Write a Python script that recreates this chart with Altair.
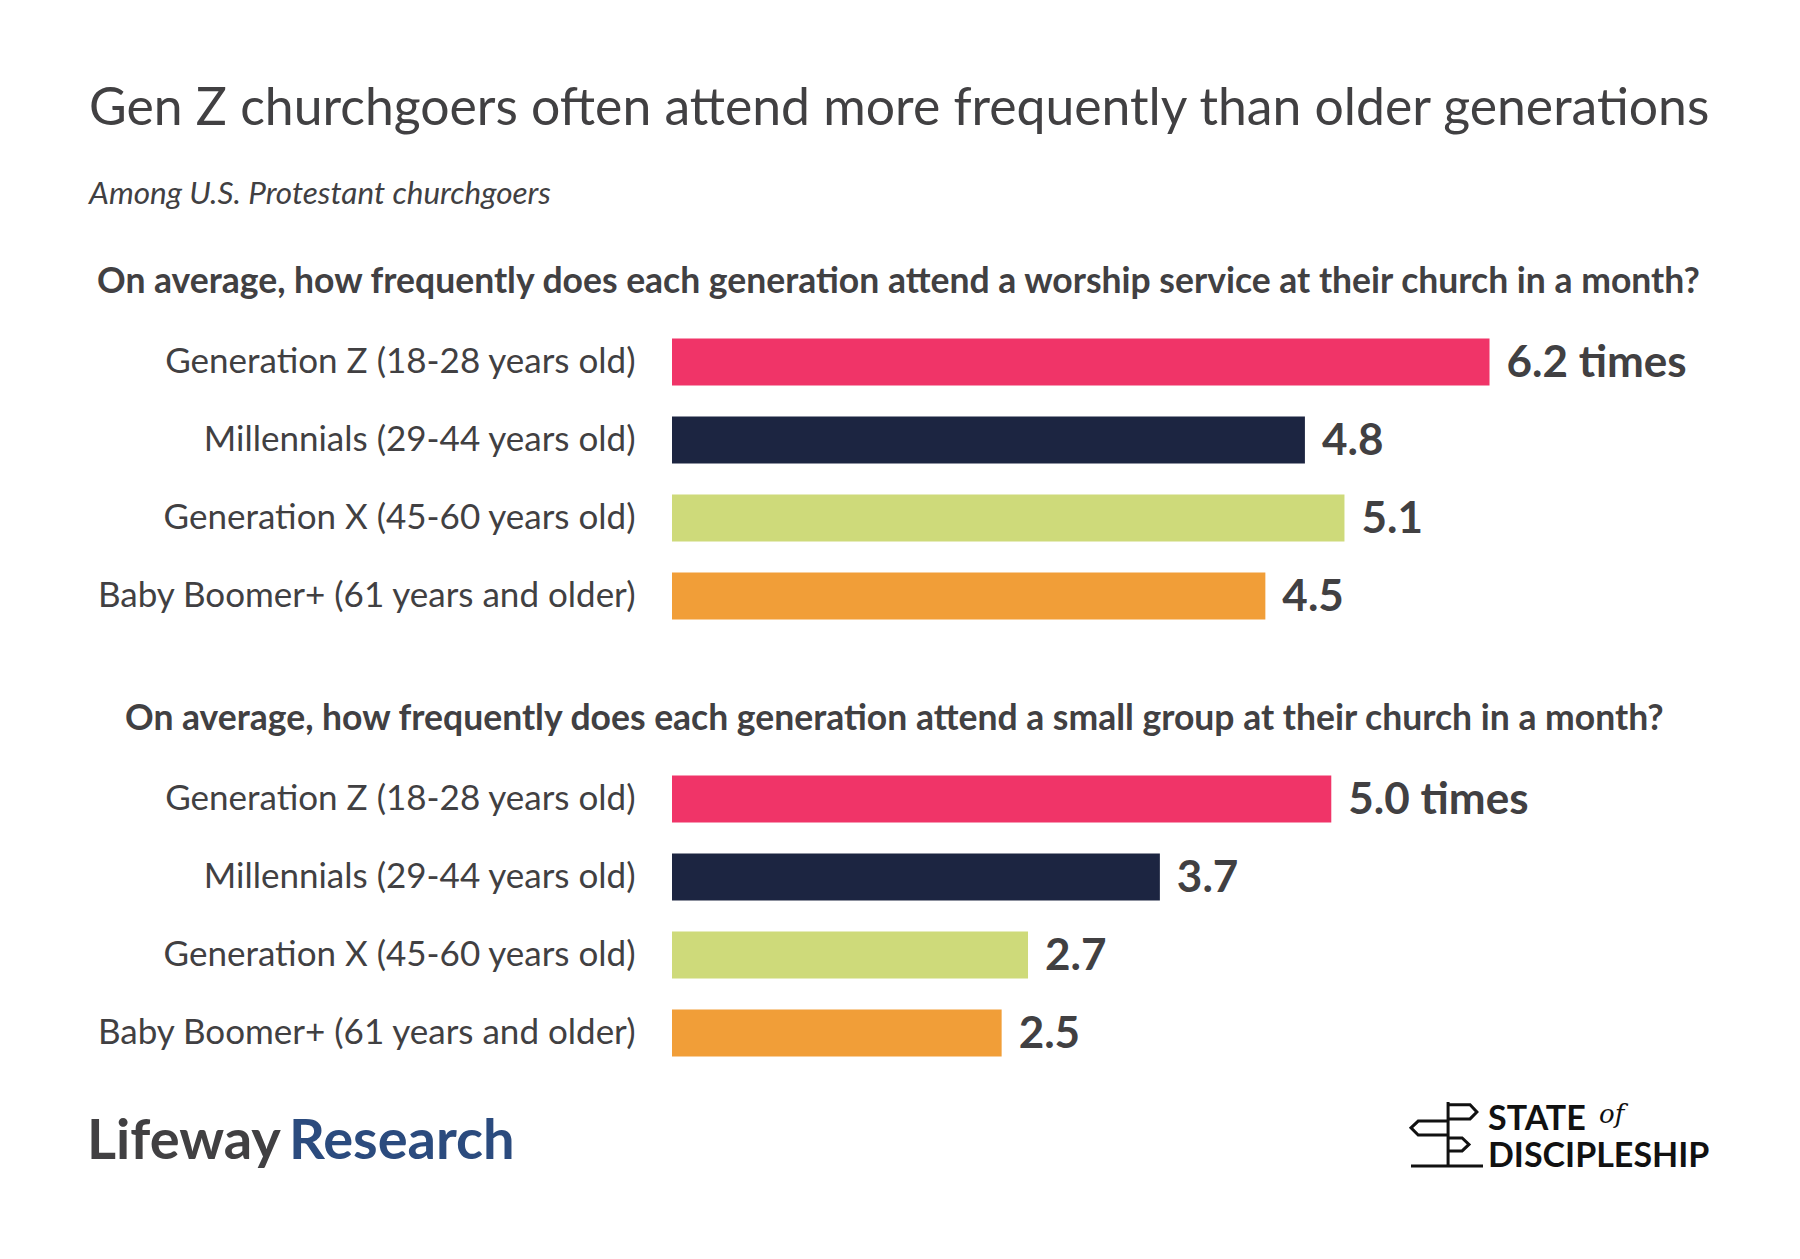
import altair as alt
import pandas as pd

FONT = "Lato"
TEXT = "#414042"

generations = [
    "Generation Z (18-28 years old)",
    "Millennials (29-44 years old)",
    "Generation X (45-60 years old)",
    "Baby Boomer+ (61 years and older)",
]
worship = [6.2, 4.8, 5.1, 4.5]
worship_labels = ["6.2 times", "4.8", "5.1", "4.5"]
small_group = [5.0, 3.7, 2.7, 2.5]
small_group_labels = ["5.0 times", "3.7", "2.7", "2.5"]
colors = ["#F03468", "#1C2541", "#CEDA7A", "#F19E38"]

title_text = "Gen Z churchgoers often attend more frequently than older generations"
subtitle_text = "Among U.S. Protestant churchgoers"
q_worship = "On average, how frequently does each generation attend a worship service at their church in a month?"
q_group = "On average, how frequently does each generation attend a small group at their church in a month?"

W = 923
H = 312


def panel(values, labels, question, dx):
    df = pd.DataFrame({"gen": generations, "value": values, "label": labels})
    y = alt.Y(
        "gen:N",
        sort=generations,
        title=None,
        scale=alt.Scale(paddingInner=0.4, paddingOuter=0.2),
        axis=alt.Axis(
            labelFont=FONT, labelFontSize=35, labelColor=TEXT, labelPadding=37,
            ticks=False, domain=False, labelLimit=0, grid=False,
        ),
    )
    x = alt.X("value:Q", scale=alt.Scale(domain=[0, 7]), axis=None)
    bars = alt.Chart(df).mark_bar().encode(
        x=x, y=y,
        color=alt.Color("gen:N", scale=alt.Scale(domain=generations, range=colors), legend=None),
    )
    text = alt.Chart(df).mark_text(
        align="left", baseline="middle", dx=17, dy=2, font=FONT, fontWeight="bold",
        fontSize=44, color=TEXT,
    ).encode(x=x, y=y, text="label:N")
    return alt.layer(bars, text).properties(
        width=W, height=H,
        title=alt.TitleParams(
            question, anchor="start", frame="group", dx=dx, font=FONT, fontSize=35.5,
            fontWeight="bold", color=TEXT, baseline="alphabetic", offset=-5,
        ),
    )


top = panel(worship, worship_labels, q_worship, 97 - 672)
bottom_base = panel(small_group, small_group_labels, q_group, 125 - 672)

one = pd.DataFrame({"k": [0]})
ox, oy = 672, 761


def txt(s, px, py, **kw):
    return alt.Chart(one).mark_text(**kw).encode(
        x=alt.value(px - ox), y=alt.value(py - oy), text=alt.value(s)
    )


lifeway = txt("Lifeway", 87, 1160, align="left", baseline="alphabetic", font=FONT,
              fontWeight="bold", fontSize=56, color="#414042")
research = txt("Research", 289, 1160, align="left", baseline="alphabetic", font=FONT,
               fontWeight="bold", fontSize=56, color="#2B4B7E")
state = txt("STATE", 1488, 1131, align="left", baseline="alphabetic", font=FONT,
            fontWeight="bold", fontSize=34, color="#111111")
of_ = txt("of", 1599, 1124, align="left", baseline="alphabetic", font="DejaVu Serif",
          fontStyle="italic", fontSize=26, color="#111111")
disc = txt("DISCIPLESHIP", 1488, 1168, align="left", baseline="alphabetic", font=FONT,
           fontWeight="bold", fontSize=34, color="#111111")

sign_path = (
    "M0.03,-0.89 L0.03,0.89 M-1,0.89 L1,0.89 "
    "M0.03,-0.81 L0.64,-0.81 L0.83,-0.61 L0.64,-0.42 L0.03,-0.42 "
    "M0.03,-0.36 L-0.8,-0.36 L-1,-0.17 L-0.8,0.03 L0.03,0.03 "
    "M0.03,0.11 L0.42,0.11 L0.61,0.29 L0.42,0.47 L0.03,0.47"
)
sign = alt.Chart(one).mark_point(
    shape=sign_path, filled=False, stroke="#111111", strokeWidth=3, size=72 * 72, opacity=1
).encode(x=alt.value(1447 - ox), y=alt.value(1135 - oy))

bottom = alt.layer(bottom_base, lifeway, research, state, of_, disc, sign)

chart = alt.vconcat(top, bottom, spacing=66).properties(
    title=alt.TitleParams(
        title_text,
        subtitle=subtitle_text,
        anchor="start", dx=2,
        font=FONT, fontSize=51.7, fontWeight="normal", color=TEXT,
        subtitleFont=FONT, subtitleFontSize=31.5, subtitleFontStyle="italic",
        subtitleColor=TEXT, subtitlePadding=43, offset=54,
    ),
    padding={"left": 79, "top": 76, "right": 60, "bottom": 60},
    background="white",
).configure_view(stroke=None, strokeWidth=0)

chart.save("out.html", embed_options={"renderer": "svg", "actions": False})
